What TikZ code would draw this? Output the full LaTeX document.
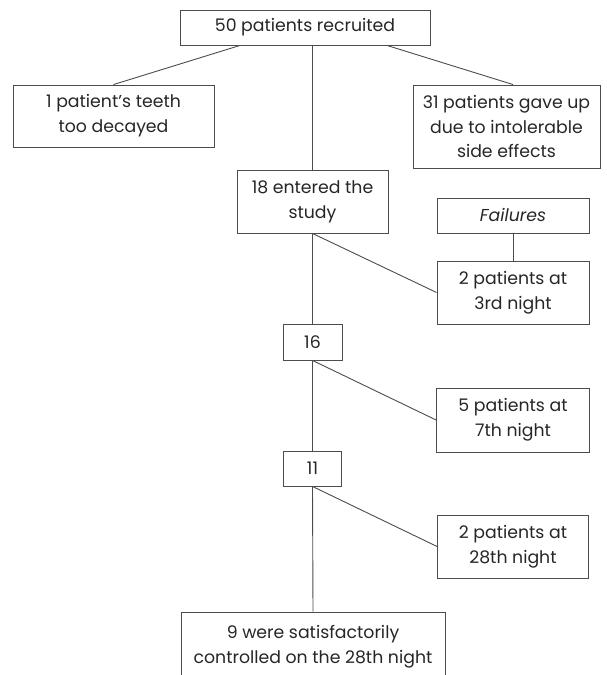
\documentclass[tikz,border=0pt]{standalone}
\usepackage{fontspec}
\setmainfont{Poppins}
\usetikzlibrary{calc}
\tikzset{
  box/.style={draw=black!70, line width=0.9pt, align=center, inner sep=0pt,
    font=\fontsize{17.3}{25}\selectfont, text=black!85},
  link/.style={draw=black!70, line width=0.9pt}
}
\begin{document}
\begin{tikzpicture}[x=1pt,y=1pt]
\useasboundingbox (0,0) rectangle (607,675);
\clip (0,0) rectangle (607,675);
\node[box, minimum width=250, minimum height=35] (top) at (305,647.5) {50 patients recruited};
\node[box, minimum width=201, minimum height=62] (left) at (113.5,559) {1 patient’s teeth\\too decayed};
\node[box, minimum width=187, minimum height=83] (right) at (506.5,548.5) {31 patients gave up\\due to intolerable\\side effects};
\node[box, minimum width=151, minimum height=63] (entered) at (312.5,473.5) {18 entered the\\study};
\node[box, minimum width=152, minimum height=35] (fail) at (513,459.5) {\itshape Failures};
\node[box, minimum width=152, minimum height=63] (p3) at (513,382.5) {2 patients at\\3rd night};
\node[box, minimum width=59, minimum height=36] (n16) at (312.5,333) {16};
\node[box, minimum width=153, minimum height=64] (p7) at (513,255) {5 patients at\\7th night};
\node[box, minimum width=58, minimum height=35] (n11) at (312.5,206.5) {11};
\node[box, minimum width=151, minimum height=63] (p28) at (513,128.5) {2 patients at\\28th night};
\node[box, minimum width=264, minimum height=70] (bot) at (313,28) {9 were satisfactorily\\controlled on the 28th night};
\draw[link] ($(top.south)+(-65,0)$) -- (left.north);
\draw[link] ($(top.south)+(82,0)$) -- ($(right.north)+(6.5,0)$);
\draw[link] (entered.north |- top.south) -- (entered.north);
\draw[link] (fail.south) -- (p3.north);
\draw[link] (entered.south) -- (p3.west);
\draw[link] (entered.south) -- (n16.north);
\draw[link] (n16.south) -- (p7.west);
\draw[link] (n16.south) -- (n11.north);
\draw[link] (n11.south) -- (p28.west);
\draw[link] (n11.south) -- (bot.north);
\end{tikzpicture}
\end{document}
